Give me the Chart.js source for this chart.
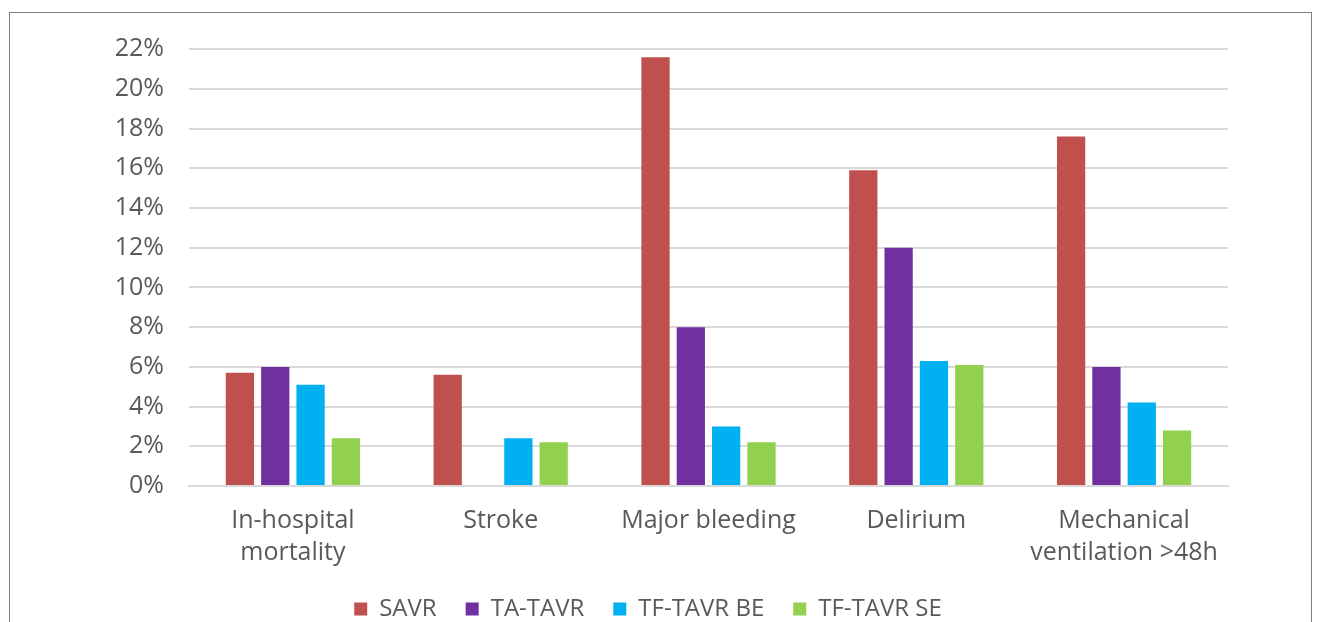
<!DOCTYPE html>
<html>
<head>
<meta charset="utf-8">
<script src="https://cdn.jsdelivr.net/npm/chart.js@4.4.1/dist/chart.umd.min.js"></script>
<style>
  html, body { margin: 0; padding: 0; background: #fff; overflow: hidden; }
  #frame { position: absolute; left: 9px; top: 12px; width: 1301px; height: 640px; border: 1px solid #7f7f7f; }
  #wrap { position: absolute; left: 0; top: 0; width: 1300px; height: 622px; }
</style>
</head>
<body>
<div id="frame"><div id="wrap"><canvas id="chart"></canvas></div></div>
<script>
const categories = [['In-hospital', 'mortality'], 'Stroke', 'Major bleeding', 'Delirium', ['Mechanical', 'ventilation >48h']];
const savr = [5.7, 5.6, 21.6, 15.9, 17.6];
const taTavr = [6.0, 0, 8.0, 12.0, 6.0];
const tfTavrBe = [5.1, 2.4, 3.0, 6.3, 4.2];
const tfTavrSe = [2.4, 2.2, 2.2, 6.1, 2.8];
const seriesNames = ['SAVR', 'TA-TAVR', 'TF-TAVR BE', 'TF-TAVR SE'];
const seriesColors = ['#C0504D', '#7030A0', '#00B0F0', '#92D050'];

const textColor = '#595959';
const fontFamily = '"Open Sans", sans-serif';

const ctx = document.getElementById('chart').getContext('2d');
new Chart(ctx, {
    type: 'bar',
    data: {
        labels: categories,
        datasets: [savr, taTavr, tfTavrBe, tfTavrSe].map((values, i) => ({
            label: seriesNames[i],
            data: values,
            backgroundColor: seriesColors[i],
            borderWidth: 0,
            barPercentage: 0.8,
            categoryPercentage: 0.68
        }))
    },
    options: {
        responsive: true,
        maintainAspectRatio: false,
        animation: false,
        // left padding shifts the legend centre to where the original has it
        layout: { padding: { left: 58, right: 82, top: 0, bottom: 4 } },
        plugins: {
            tooltip: { enabled: false },
            legend: {
                position: 'bottom',
                labels: {
                    color: textColor,
                    font: { family: fontFamily, size: 24 },
                    boxWidth: 13,
                    boxHeight: 13,
                    padding: 29
                }
            }
        },
        scales: {
            y: {
                min: 0,
                max: 22,
                ticks: {
                    stepSize: 2,
                    color: textColor,
                    font: { family: fontFamily, size: 25, lineHeight: 0.9 },
                    padding: 25,
                    callback: v => v + '%'
                },
                grid: { color: '#D9D9D9', lineWidth: 2, drawTicks: false },
                border: { display: false },
                afterFit: scale => { scale.width = 121; }
            },
            x: {
                ticks: {
                    color: textColor,
                    font: { family: fontFamily, size: 25, lineHeight: 1.28 },
                    padding: 19,
                    maxRotation: 0
                },
                grid: { display: false, drawTicks: false },
                border: { color: '#D9D9D9', width: 2 },
                afterFit: scale => { scale.height = 82; }
            }
        }
    }
});
</script>
</body>
</html>
